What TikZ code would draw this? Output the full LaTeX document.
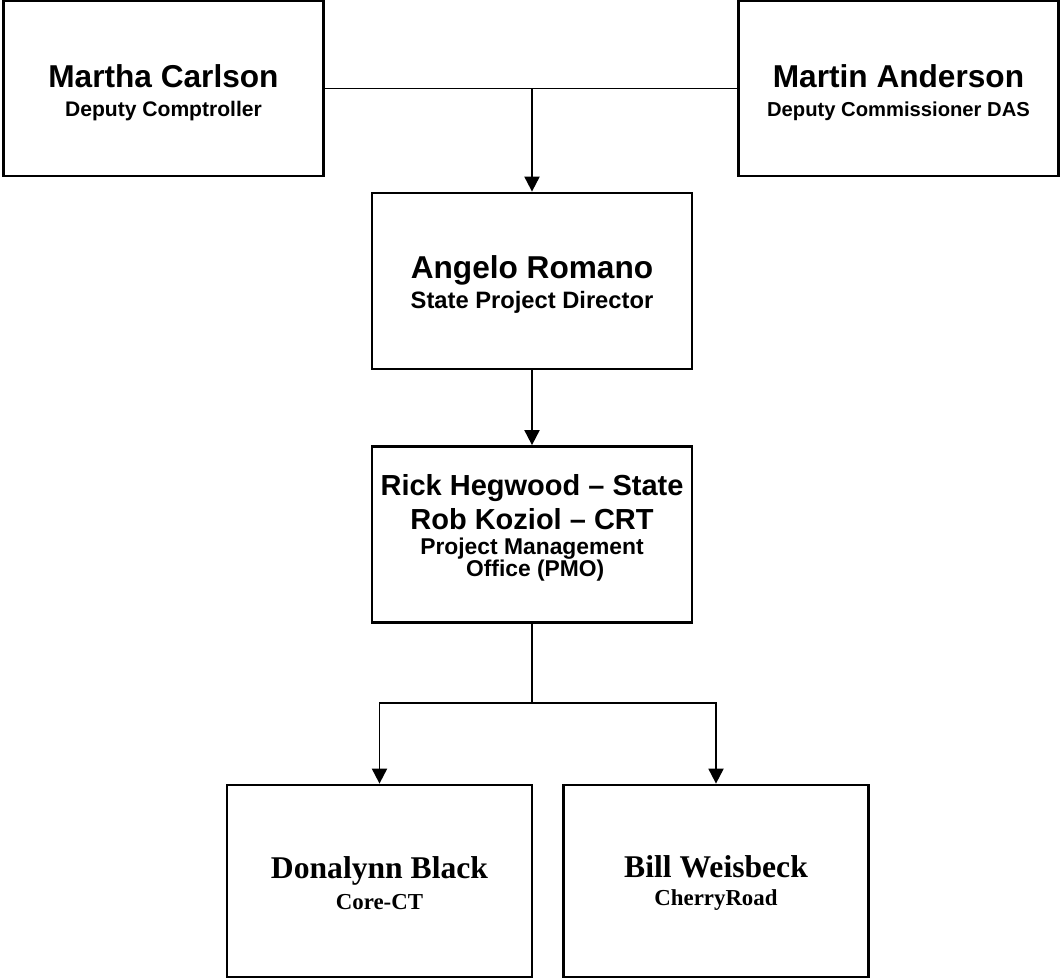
\documentclass[tikz,border=0pt]{standalone}
\usepackage{fontspec}
\setmainfont{Liberation Serif}
\setsansfont{Liberation Sans}
\usepackage{tikz}
\usetikzlibrary{arrows.meta}
\newcommand{\namefont}{\sffamily\bfseries\fontsize{18}{21}\selectfont}
\newcommand{\rolefont}[1][12]{\sffamily\bfseries\fontsize{#1}{16}\selectfont}
\newcommand{\pmofont}{\sffamily\bfseries\fontsize{16.5}{19.3}\selectfont}
\newcommand{\pmorole}{\sffamily\bfseries\fontsize{13}{12.5}\selectfont}
\newcommand{\vendname}{\rmfamily\bfseries\fontsize{18}{21}\selectfont}
\newcommand{\vendrole}{\rmfamily\bfseries\fontsize{13}{17.6}\selectfont}
% invisible struts to nudge text inside a box
\newcommand{\padtop}[1]{\rule{0pt}{#1}}
\newcommand{\padbot}[1]{\rule[-#1]{0pt}{#1}}

\begin{document}
\begin{tikzpicture}[x=0.02cm, y=-0.02cm,
  every node/.style={align=center, inner sep=0pt},
  box/.style={draw, line width=1.6pt, minimum width=6.4cm, minimum height=3.52cm},
  topbox/.style={box, minimum width=6.4cm, minimum height=3.5cm},
  lowbox/.style={box, minimum width=6.1cm, minimum height=3.84cm},
  link/.style={line width=1.1pt},
  arr/.style={link, -{Triangle[length=0.3cm, width=0.3cm]}},
]
\useasboundingbox (0,0) rectangle (1061,978);

% Deputies
\node[topbox] (carlson)  at (163.5, 88.5) {\namefont\padtop{17.5pt}Martha Carlson\\[4.5pt]\rolefont Deputy Comptroller};
\node[topbox] (anderson) at (898.5, 88.5) {\namefont\padtop{17.5pt}Martin Anderson\\[4.5pt]\rolefont[11.5]Deputy Commissioner DAS};

% Director and PMO
\node[box] (romano) at (532, 281) {\namefont\padtop{17.5pt}Angelo Romano\\[2.5pt]\rolefont[13.5]State Project Director};
\node[box] (pmo)    at (532, 534.5) {\pmofont Rick Hegwood -- State\\[2.8pt]\pmofont Rob Koziol -- CRT\\[2.6pt]\pmorole Project Management\\[-0.8pt]\pmorole \ Office (PMO)\padbot{10.5pt}};

% Vendors
\node[lowbox] (black)    at (379.5, 881) {\vendname\padtop{15pt}Donalynn Black\\[4pt]\vendrole Core-CT};
\node[lowbox] (weisbeck) at (716, 881)   {\vendname\padtop{15pt}Bill Weisbeck\\[4pt]\vendrole CherryRoad};

% Connectors
\coordinate (join)  at (romano.north |- carlson.east);
\coordinate (split) at (532, 703);
\draw[link] (carlson.east) -- (anderson.west);
\draw[arr]  (join) -- (romano.north);
\draw[arr]  (romano.south) -- (pmo.north);
\draw[link] (pmo.south) -- (split);
\draw[arr]  (split) -| (black.north);
\draw[arr]  (split) -| (weisbeck.north);

\end{tikzpicture}
\end{document}
